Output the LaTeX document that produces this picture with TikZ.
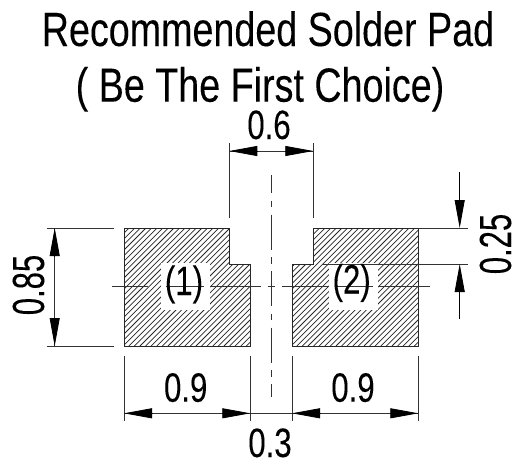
\documentclass[tikz,border=0pt]{standalone}
\usepackage{fontspec}
\usetikzlibrary{arrows.meta}
\setmainfont[FakeBold=0.15]{Liberation Sans}

\begin{document}
\begin{tikzpicture}
	[x=1pt, y=-1pt,
	padline/.style={draw=black!85, line width=1pt},
	hatchline/.style={draw=black!85, line width=0.75pt},
	thinline/.style={draw=black!80, line width=0.8pt},
	centerline/.style={draw=black!80, line width=0.8pt},
	dimtip/.style={draw=black, line width=0.8pt, -{Triangle[length=28pt,width=10pt]}},
	titletext/.style={font=\fontsize{48}{48}\selectfont, anchor=base, inner sep=0pt, xscale=0.785},
	dimtext/.style={font=\fontsize{41}{41}\selectfont, anchor=base, inner sep=0pt, xscale=0.76},
	sidetext/.style={font=\fontsize{45}{45}\selectfont, anchor=base, inner sep=0pt, rotate=90, xscale=0.69},
	padlabel/.style={fill=white, minimum width=49pt, minimum height=47pt, inner sep=0pt}]

	\useasboundingbox (0,0) rectangle (524,463);

	% pads
	\begin{scope}
		\clip (124,228) -- (229.3,228) -- (229.3,264) -- (250.3,264) -- (250.3,346) -- (124,346) -- cycle
			(292,346) -- (292,264) -- (313.3,264) -- (313.3,228) -- (418.3,228) -- (418.3,346) -- cycle;
		\foreach \hx in {0,5.6,...,420}
			\draw[hatchline] (\hx,346) -- ({\hx+118},228);
	\end{scope}
	\draw[padline] (124,228) -- (229.3,228) -- (229.3,264) -- (250.3,264) -- (250.3,346) -- (124,346) -- cycle;
	\draw[padline] (292,346) -- (292,264) -- (313.3,264) -- (313.3,228) -- (418.3,228) -- (418.3,346) -- cycle;

	\node[padlabel] (boxone) at (185.5,286) {};
	\node[padlabel] (boxtwo) at (353.5,286.5) {};

	% center lines
	\foreach \xa/\xb in {112/148,166/204,211/260.7,268/275,281.7/328,335/372.7,378/430}
		\draw[centerline] (\xa,286.3) -- (\xb,286.3);
	\coordinate (ctop) at (271.3,175);
	\coordinate (cbot) at (271.3,397);
	\draw[centerline, dash pattern=on 35pt off 7.5pt on 6.5pt off 7.5pt, dash phase=17pt] (ctop) -- (cbot);

	% reference points
	\coordinate (wa) at (229.3,151);
	\coordinate (wb) at (313.3,151);
	\coordinate (ha) at (459.7,228);
	\coordinate (hb) at (459.7,264);
	\coordinate (la) at (54.7,228);
	\coordinate (lb) at (54.7,346);
	\coordinate (ba) at (124,413.3);
	\coordinate (bb) at (250.3,413.3);
	\coordinate (bc) at (292,413.3);
	\coordinate (bd) at (418.3,413.3);

	% extension lines
	\draw[thinline] (229.3,143) -- (229.3,217.7);
	\draw[thinline] (313.3,143) -- (313.3,217.7);
	\draw[thinline] (418.3,228) -- (467.7,228);
	\draw[thinline] (323,264) -- (467.7,264);
	\draw[thinline] (46.7,228) -- (114.3,228);
	\draw[thinline] (46.7,346) -- (114.3,346);
	\foreach \bx in {124,250.3,292,418.3}
		\draw[thinline] (\bx,356) -- (\bx,421);

	% dimensions
	\draw[thinline] (wa) -- (wb);
	\draw[dimtip] (257.3,151) -- (wa);
	\draw[dimtip] (285.3,151) -- (wb);

	\coordinate (hup) at (459.7,172);
	\coordinate (hdn) at (459.7,319);
	\draw[dimtip] (hup) -- (ha);
	\draw[dimtip] (hdn) -- (hb);

	\draw[thinline] (la) -- (lb);
	\draw[dimtip] (54.7,256) -- (la);
	\draw[dimtip] (54.7,318) -- (lb);

	\draw[thinline] (ba) -- (bd);
	\draw[dimtip] (152,413.3) -- (ba);
	\draw[dimtip] (222.3,413.3) -- (bb);
	\draw[dimtip] (320,413.3) -- (bc);
	\draw[dimtip] (390.3,413.3) -- (bd);

	% labels
	\node[titletext] (titleone) at (268,46) {Recommended Solder Pad};
	\node[titletext] (titletwo) at (260,101.7) {( Be The First Choice)};
	\node[dimtext] (dimwidth) at (269,139) {0.6};
	\node[dimtext] (dimleft) at (185.7,401.7) {0.9};
	\node[dimtext] (dimright) at (353,401.7) {0.9};
	\node[dimtext] (dimgap) at (270,457) {0.3};
	\node[dimtext] (padone) at (184,295) {(1)};
	\node[dimtext] (padtwo) at (351.7,293.5) {(2)};
	\node[sidetext] (dimstep) at (511,244) {0.25};
	\node[sidetext] (dimheight) at (44,285) {0.85};
\end{tikzpicture}
\end{document}
